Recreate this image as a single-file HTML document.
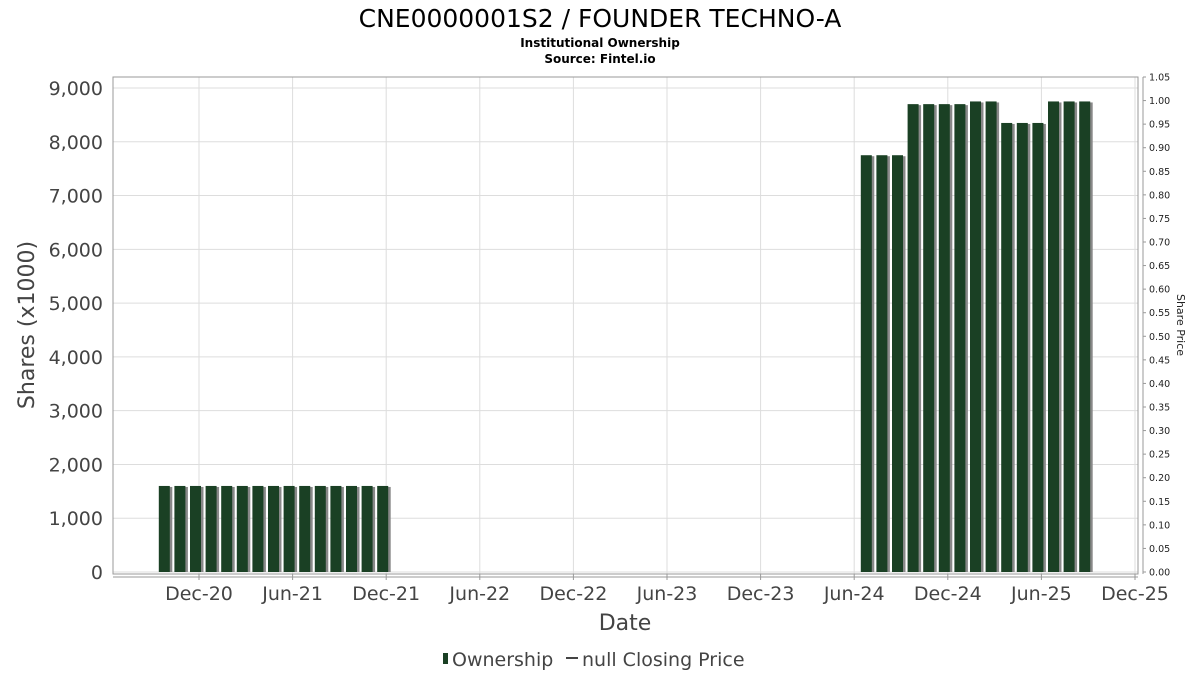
<!DOCTYPE html>
<html><head><meta charset="utf-8"><style>
body{margin:0;background:#fff;width:1200px;height:675px;overflow:hidden;font-family:"DejaVu Sans","Liberation Sans",sans-serif}
</style></head><body>
<svg id="chart" width="1200" height="675" xmlns="http://www.w3.org/2000/svg" font-family="DejaVu Sans, Liberation Sans, sans-serif">
<text x="600" y="27" text-anchor="middle" font-size="25" fill="#000">CNE0000001S2 / FOUNDER TECHNO-A</text>
<text x="600" y="47" text-anchor="middle" font-size="12" font-weight="bold" fill="#000">Institutional Ownership</text>
<text x="600" y="63" text-anchor="middle" font-size="12" font-weight="bold" fill="#000">Source: Fintel.io</text>
<g id="grid"></g>
<rect x="113" y="77" width="1025" height="497" fill="none" stroke="#999" stroke-width="1"/>
<g id="bars"></g>
<g id="axes"></g>
<text transform="translate(34,325) rotate(-90)" text-anchor="middle" font-size="22" fill="#444">Shares (x1000)</text>
<text transform="translate(1177,325) rotate(90)" text-anchor="middle" font-size="11" fill="#222">Share Price</text>
<text x="625" y="630" text-anchor="middle" font-size="22" fill="#444">Date</text>
<g>
<rect x="443" y="653" width="5" height="11" fill="#1a4024"/>
<text x="452" y="666" font-size="19" fill="#444">Ownership</text>
<line x1="566" y1="658" x2="578" y2="658" stroke="#444" stroke-width="2"/>
<text x="582" y="666" font-size="19" fill="#444">null Closing Price</text>
</g>
</svg>
<script>
const months=[-2,-1,0,1,2,3,4,5,6,7,8,9,10,11,12,43,44,45,46,47,48,49,50,51,52,53,54,55,56,57];
const shares=[1600,1600,1600,1600,1600,1600,1600,1600,1600,1600,1600,1600,1600,1600,1600,7750,7750,7750,8700,8700,8700,8700,8750,8750,8350,8350,8350,8750,8750,8750];
const yTicks=[0,1000,2000,3000,4000,5000,6000,7000,8000,9000];
const y2Ticks=[0,0.05,0.1,0.15,0.2,0.25,0.3,0.35,0.4,0.45,0.5,0.55,0.6,0.65,0.7,0.75,0.8,0.85,0.9,0.95,1.0,1.05];
const xLabels=["Dec-20","Jun-21","Dec-21","Jun-22","Dec-22","Jun-23","Dec-23","Jun-24","Dec-24","Jun-25","Dec-25"];
const xLabelMonths=[0,6,12,18,24,30,36,42,48,54,60];
const NS="http://www.w3.org/2000/svg";
const X=m=>199+m*15.6;
const Y=v=>572-v*(572-88)/9000;
const Y2=v=>572-v*(572-77)/1.05;
function mk(t,a,p){const e=document.createElementNS(NS,t);for(const k in a)e.setAttribute(k,a[k]);p.appendChild(e);return e;}
const grid=document.getElementById('grid'),axes=document.getElementById('axes'),bars=document.getElementById('bars');
yTicks.forEach(v=>{
 const l=mk('line',{x1:113,x2:1138,y1:Y(v),y2:Y(v),stroke:'#ddd'},grid);
 
 
 const t=mk('text',{x:103,y:Y(v)+7,'text-anchor':'end','font-size':19,fill:'#444'},axes);
 
 
 t.textContent=v.toLocaleString('en-US');
});
xLabelMonths.forEach((m,i)=>{
 const l=mk('line',{x1:X(m),x2:X(m),y1:77,y2:574,stroke:'#ddd'},grid);
 
 
 const tk=mk('line',{x1:X(m),x2:X(m),y1:574,y2:580,stroke:'#999'},axes);
 
 
 const t=mk('text',{x:X(m),y:600,'text-anchor':'middle','font-size':19,fill:'#444'},axes);
 
 
 t.textContent=xLabels[i];
});
const xl=mk('line',{x1:113,x2:1138,y1:577,y2:577,stroke:'#999'},axes);


const y2l=mk('line',{x1:1143,x2:1143,y1:77,y2:574,stroke:'#999'},axes);


y2Ticks.forEach(v=>{
 const tk=mk('line',{x1:1143,x2:1146,y1:Y2(v),y2:Y2(v),stroke:'#999'},axes);
 
 
 const t=mk('text',{x:1149,y:Y2(v)+3.5,'font-size':9.5,fill:'#222'},axes);
 
 
 t.textContent=v.toFixed(2);
});
months.forEach((m,i)=>{
 const x=X(m)-9,y=Y(shares[i]),h=572-y;
 const s=mk('rect',{x:x+2,y:y+1,width:11.5,height:h-1,fill:'#888'},bars);
 
 
 const b=mk('rect',{x:x,y:y,width:11,height:h,fill:'#1a4024'},bars);
 
 
});
</script>
</body></html>
